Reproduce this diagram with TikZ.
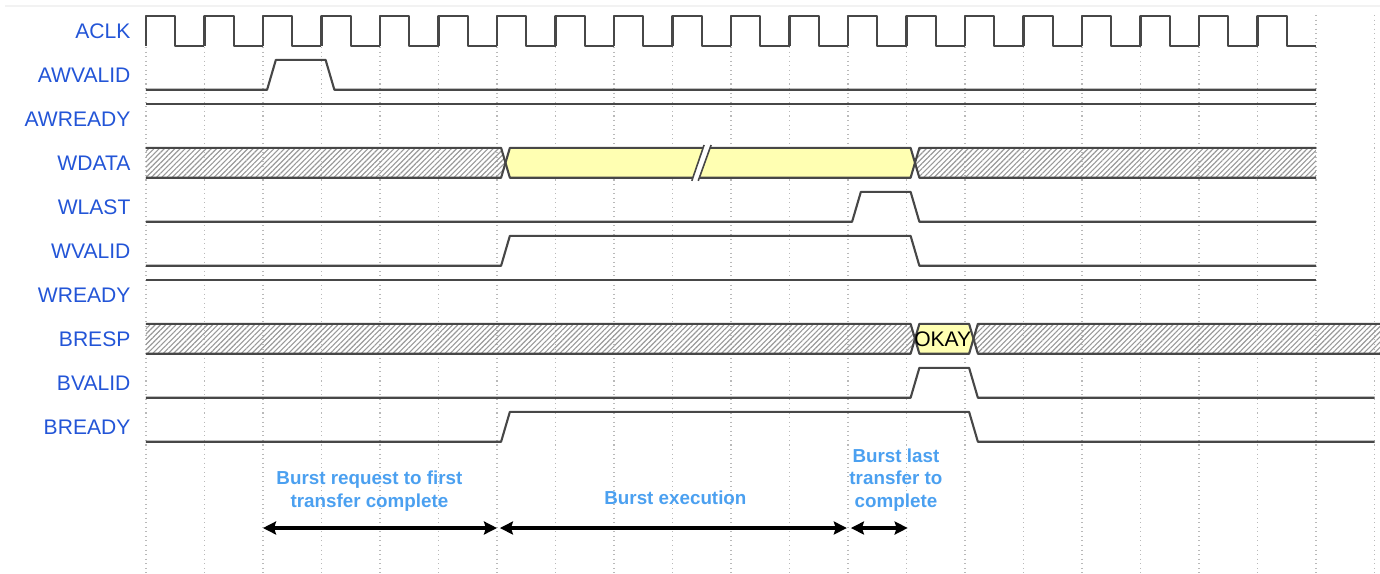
\documentclass[tikz,border=0pt]{standalone}
\usepackage{fontspec}
\setmainfont{Liberation Sans}
\usetikzlibrary{arrows.meta, patterns.meta}
\definecolor{lblue}{RGB}{35,85,215}
\definecolor{nblue}{RGB}{75,160,240}
\definecolor{dyel}{RGB}{255,255,178}
\tikzset{
  sig/.style   = {draw=black!72, line width=1.2pt, line join=round},
  grid/.style  = {draw=gray!55, dotted, line width=0.6pt},
  hatch/.style = {pattern={Lines[angle=45, distance=2.1pt, line width=0.65pt]}, pattern color=gray!80},
  dval/.style  = {fill=dyel},
  lbl/.style   = {anchor=east, inner sep=0pt, text=lblue, font=\fontsize{12}{14}\selectfont},
  note/.style  = {text=nblue, align=center, font=\fontsize{10.7}{13}\selectfont\bfseries},
  span/.style  = {{Stealth[length=2.6mm,width=2.6mm,inset=0.4mm]}-{Stealth[length=2.6mm,width=2.6mm,inset=0.4mm]}, line width=2.2pt},
}

\begin{document}
\begin{tikzpicture}[x=1.17cm, y=-0.88cm]
  \useasboundingbox (-2.4957,0) rectangle (21.094,13.045);
  \draw[gray!10, line width=1.5pt] (-2.41,0.136) -- (21.094,0.136);

  % ---- time grid, one line per clock period ----
  \foreach \k in {0,...,21}
    \draw[grid] (\k,0.34) -- (\k,13.05);

  % ---- signal names ----
  \node[lbl] (lclk)  at (-0.26,0.70) {ACLK};
  \node[lbl] (lawv)  at (-0.26,1.70) {AWVALID};
  \node[lbl] (lawr)  at (-0.26,2.70) {AWREADY};
  \node[lbl] (lwd)   at (-0.26,3.70) {WDATA};
  \node[lbl] (lwl)   at (-0.26,4.70) {WLAST};
  \node[lbl] (lwv)   at (-0.26,5.70) {WVALID};
  \node[lbl] (lwr)   at (-0.26,6.70) {WREADY};
  \node[lbl] (lbr)   at (-0.26,7.70) {BRESP};
  \node[lbl] (lbv)   at (-0.26,8.70) {BVALID};
  \node[lbl] (lbrdy) at (-0.26,9.70) {BREADY};

  % ---- clock ----
  \foreach \k in {0,...,19}
    \draw[sig] (\k,1.04) -- (\k,0.36) -- (\k+0.5,0.36) -- (\k+0.5,1.04) -- (\k+1,1.04);

  % ---- address channel ----
  \draw[sig] (0,2.04) -- (2.07,2.04) -- (2.22,1.36) -- (3.07,1.36) -- (3.22,2.04) -- (20,2.04);
  \draw[sig] (0,2.36) -- (20,2.36);

  % ---- write data bus ----
  \fill[hatch] (0,3.36) -- (6.07,3.36) -- (6.145,3.70) -- (6.07,4.04) -- (0,4.04) -- cycle;
  \fill[dval]  (6.145,3.70) -- (6.22,3.36) -- (13.07,3.36) -- (13.145,3.70) -- (13.07,4.04) -- (6.22,4.04) -- cycle;
  \fill[hatch] (13.145,3.70) -- (13.22,3.36) -- (20,3.36) -- (20,4.04) -- (13.22,4.04) -- cycle;
  \draw[sig] (0,3.36) -- (6.07,3.36) -- (6.22,4.04) -- (13.07,4.04) -- (13.22,3.36) -- (20,3.36);
  \draw[sig] (0,4.04) -- (6.07,4.04) -- (6.22,3.36) -- (13.07,3.36) -- (13.22,4.04) -- (20,4.04);
  % break mark
  \fill[white] (9.33,4.11) -- (9.54,3.295) -- (9.66,3.295) -- (9.44,4.11) -- cycle;
  \draw[sig, line width=0.9pt] (9.33,4.11) -- (9.54,3.295);
  \draw[sig, line width=0.9pt] (9.44,4.11) -- (9.66,3.295);

  % ---- write control ----
  \draw[sig] (0,5.04) -- (12.07,5.04) -- (12.22,4.36) -- (13.07,4.36) -- (13.22,5.04) -- (20,5.04);
  \draw[sig] (0,6.04) -- (6.07,6.04) -- (6.22,5.36) -- (13.07,5.36) -- (13.22,6.04) -- (20,6.04);
  \draw[sig] (0,6.36) -- (20,6.36);

  % ---- write response bus ----
  \fill[hatch] (0,7.36) -- (13.07,7.36) -- (13.145,7.70) -- (13.07,8.04) -- (0,8.04) -- cycle;
  \fill[dval]  (13.145,7.70) -- (13.22,7.36) -- (14.07,7.36) -- (14.145,7.70) -- (14.07,8.04) -- (13.22,8.04) -- cycle;
  \fill[hatch] (14.145,7.70) -- (14.22,7.36) -- (21.1,7.36) -- (21.1,8.04) -- (14.22,8.04) -- cycle;
  \draw[sig] (0,7.36) -- (13.07,7.36) -- (13.22,8.04) -- (14.07,8.04) -- (14.22,7.36) -- (21.1,7.36);
  \draw[sig] (0,8.04) -- (13.07,8.04) -- (13.22,7.36) -- (14.07,7.36) -- (14.22,8.04) -- (21.1,8.04);
  \node[font=\fontsize{12}{14}\selectfont, inner sep=0pt] (okay) at (13.62,7.72) {OKAY};

  % ---- response handshake ----
  \draw[sig] (0,9.04) -- (13.07,9.04) -- (13.22,8.36) -- (14.07,8.36) -- (14.22,9.04) -- (21,9.04);
  \draw[sig] (0,10.04) -- (6.07,10.04) -- (6.22,9.36) -- (14.07,9.36) -- (14.22,10.04) -- (21,10.04);

  % ---- phase annotations ----
  \node[note] (nreq)  at (3.82,11.17) {Burst request to first\\transfer complete};
  \node[note] (nexec) at (9.05,11.32) {Burst execution};
  \node[note] (nlast) at (12.82,10.91) {Burst last\\transfer to\\complete};

  \coordinate (p0) at (2.00,12.0);
  \coordinate (p1) at (6.00,12.0);
  \coordinate (p2) at (6.05,12.0);
  \coordinate (p3) at (11.98,12.0);
  \coordinate (p4) at (12.05,12.0);
  \coordinate (p5) at (13.02,12.0);
  \draw[span] (p0) -- (p1);
  \draw[span] (p2) -- (p3);
  \draw[span] (p4) -- (p5);
\end{tikzpicture}
\end{document}
